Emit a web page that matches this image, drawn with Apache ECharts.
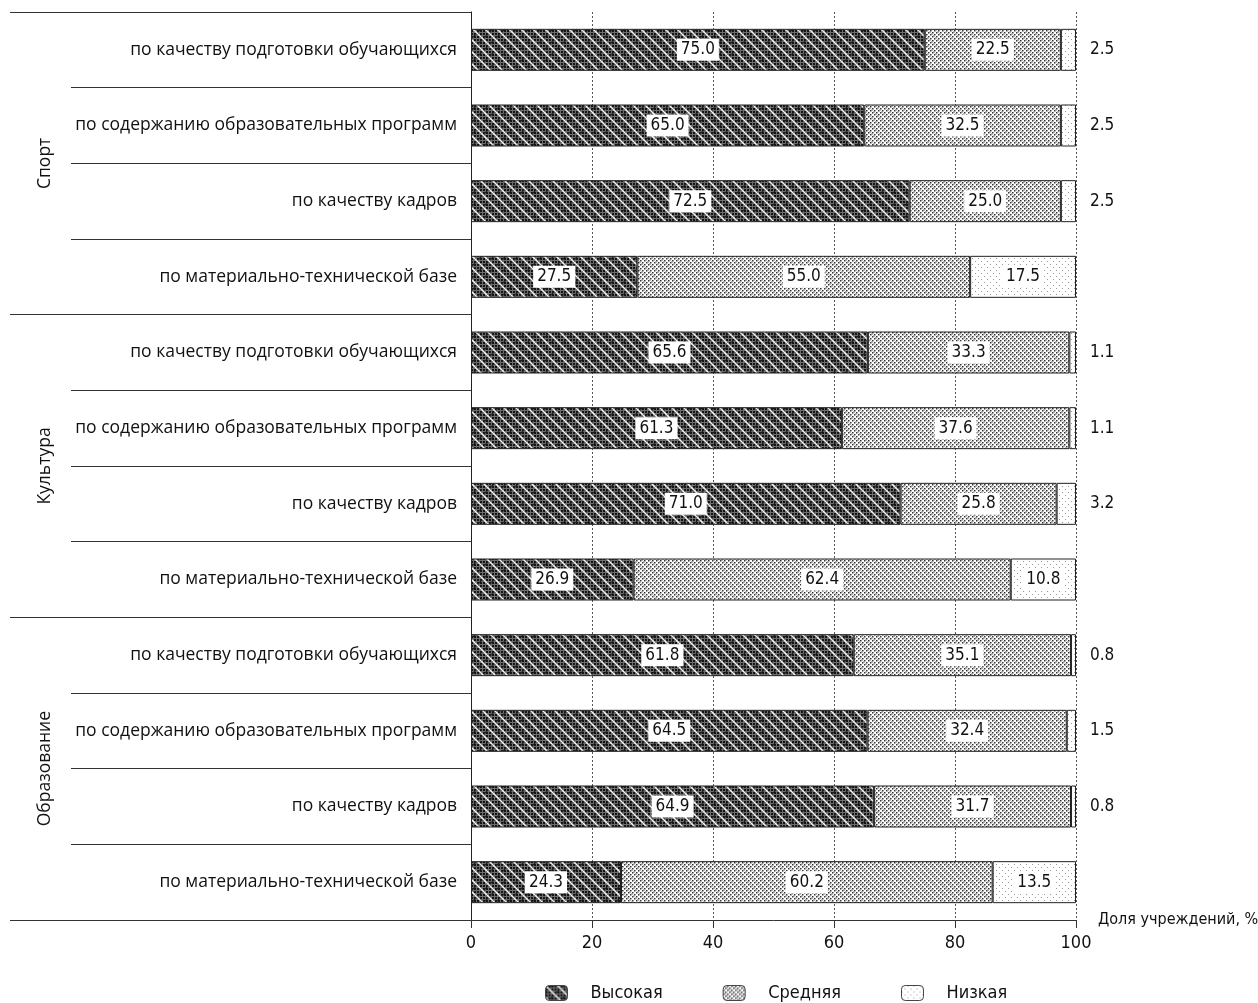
<!DOCTYPE html>
<html><head><meta charset="utf-8">
<script src="https://cdn.jsdelivr.net/npm/echarts@6/dist/echarts.min.js"></script>
<style>html,body{margin:0;padding:0;background:#fff}#c{width:1258px;height:1003px}</style>
</head><body><div id="c"></div>
<script>
const categories = [
  'по качеству подготовки обучающихся','по содержанию образовательных программ','по качеству кадров','по материально-технической базе',
  'по качеству подготовки обучающихся','по содержанию образовательных программ','по качеству кадров','по материально-технической базе',
  'по качеству подготовки обучающихся','по содержанию образовательных программ','по качеству кадров','по материально-технической базе'
];
const groups = ['Спорт','Культура','Образование'];
const seriesNames = ['Высокая','Средняя','Низкая'];
const high = [75.0,65.0,72.5,27.5, 65.6,61.3,71.0,26.9, 61.8,64.5,64.9,24.3];
const mid  = [22.5,32.5,25.0,55.0, 33.3,37.6,25.8,62.4, 35.1,32.4,31.7,60.2];
const low  = [2.5,2.5,2.5,17.5, 1.1,1.1,3.2,10.8, 0.8,1.5,0.8,13.5];
const xMin = 0, xMax = 100, xStep = 20;
const axisName = 'Доля учреждений, %';

const NARROW = '"Liberation Sans Narrow","DejaVu Sans Condensed",sans-serif';
const CAT_FONT = '"Open Sans","Noto Sans",sans-serif';

function tile(n, draw){
  const c=document.createElement('canvas'); c.width=n; c.height=n;
  const x=c.getContext('2d'); draw(x,n); return c;
}
function diag(x,n,dir,color,w,off){
  x.strokeStyle=color; x.lineWidth=w; x.beginPath();
  for(let k=-2;k<=2;k++){
    if(dir>0){x.moveTo(k*n+off,0);x.lineTo(k*n+off+n,n);}
    else{x.moveTo(k*n+off+n,0);x.lineTo(k*n+off,n);}
  }
  x.stroke();
}
const patHigh = tile(12,(x,n)=>{
  x.fillStyle='#6e6e6e';x.fillRect(0,0,n,n);
  x.fillStyle='#151515';
  for(let i=0;i<n;i+=3)for(let j=0;j<n;j+=3){ x.fillRect(i,j,2,2); }
  diag(x,n,-1,'#222',1.2,6);
  diag(x,n,1,'#f4f4f4',1.5,0);
});
const patMid = tile(8,(x,n)=>{
  x.fillStyle='#fff';x.fillRect(0,0,n,n);
  diag(x,n,1,'#aaa',0.8,2);
  x.fillStyle='#333';
  [[0,0],[4,0],[2,2],[6,2],[0,4],[4,4],[2,6],[6,6]].forEach(p=>x.fillRect(p[0],p[1],1.5,1.5));
});
const patLow = tile(6,(x,n)=>{
  x.fillStyle='#fff';x.fillRect(0,0,n,n);
  x.fillStyle='#999';
  x.fillRect(0,0,1,1);x.fillRect(3,3,1,1);
});
const pats=[patHigh,patMid,patLow];

const raw=[high,mid,low];
const totals=high.map((h,i)=>h+mid[i]+low[i]);

const boxLabel={show:true,position:'inside',backgroundColor:'#fff',padding:[3,4,2,4],
  color:'#111',fontFamily:NARROW,fontSize:17,formatter:p=>p.data.raw.toFixed(1)};

const series=raw.map((arr,si)=>({
  name:seriesNames[si],type:'bar',stack:'t',barWidth:42,
  itemStyle:{color:{image:pats[si],repeat:'repeat'},borderColor:'#222',borderWidth:1},
  emphasis:{disabled:true},
  label:boxLabel,
  data:arr.map((v,i)=>{
    const d={value:v/totals[i]*100,raw:v};
    if(si===2 && v<5){
      d.label={show:true,position:'right',distance:14,backgroundColor:'transparent',padding:0,
        color:'#111',fontFamily:NARROW,fontSize:17,formatter:p=>p.data.raw.toFixed(1)};
    }
    return d;
  })
}));

const chart=echarts.init(document.getElementById('c'),null,{renderer:'canvas'});
chart.setOption({
  animation:false,
  backgroundColor:'#fff',
  grid:{left:471,right:182,top:12,bottom:83,containLabel:false,outerBoundsMode:'none'},
  xAxis:{type:'value',min:xMin,max:xMax,interval:xStep,
    axisLine:{show:true,lineStyle:{color:'#333',width:1}},
    axisTick:{show:true,length:8,lineStyle:{color:'#333'}},
    axisLabel:{color:'#111',fontFamily:NARROW,fontSize:18,margin:14},
    splitLine:{show:true,lineStyle:{color:'#555',type:[2,2],width:1}},
    name:axisName,nameLocation:'end',nameGap:22,
    nameTextStyle:{color:'#111',fontFamily:NARROW,fontSize:16,verticalAlign:'middle',align:'left'}
  },
  yAxis:[{type:'category',inverse:true,data:categories,
    axisLine:{show:true,lineStyle:{color:'#222'}},
    axisTick:{show:true,length:400,lineStyle:{color:'#333'}},
    axisLabel:{color:'#111',fontFamily:CAT_FONT,fontSize:17.5,margin:14},
    splitLine:{show:false}
  },{type:'category',inverse:true,data:groups,position:'left',
    axisLine:{show:false},
    axisTick:{show:true,length:461,lineStyle:{color:'#333'}},
    axisLabel:{color:'#111',fontFamily:CAT_FONT,fontSize:17.5,rotate:90,margin:426,align:'center',verticalAlign:'middle'},
    splitLine:{show:false}
  }],
  legend:{top:984,left:545,padding:0,itemWidth:22,itemHeight:15,itemGap:60,
    textStyle:{color:'#111',fontFamily:NARROW,fontSize:18,padding:[0,0,0,18]},
    data:seriesNames,
    itemStyle:{borderColor:'#444',borderWidth:1}
  },
  series:series
});
</script></body></html>
